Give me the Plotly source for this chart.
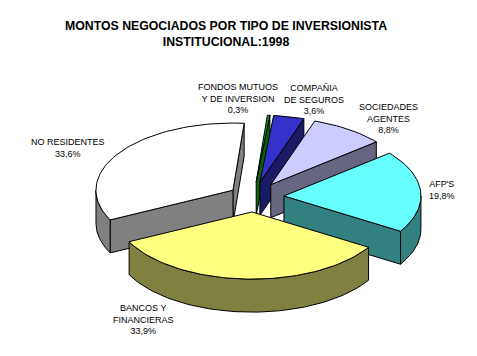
import math
import plotly.graph_objects as go

# --- data -------------------------------------------------------------
categories = ["AFP'S", "BANCOS Y FINANCIERAS", "NO RESIDENTES",
              "FONDOS MUTUOS Y DE INVERSION", "COMPAÑIA DE SEGUROS",
              "SOCIEDADES AGENTES"]
values = [19.8, 33.9, 33.6, 0.3, 3.6, 8.8]
value_labels = ["19,8%", "33,9%", "33,6%", "0,3%", "3,6%", "8,8%"]
label_lines = ["AFP'S", "BANCOS Y<br>FINANCIERAS", "NO RESIDENTES",
               "FONDOS MUTUOS<br>Y DE INVERSION", "COMPAÑIA<br>DE SEGUROS",
               "SOCIEDADES<br>AGENTES"]
title_text = "MONTOS NEGOCIADOS POR TIPO DE INVERSIONISTA<br>INSTITUCIONAL:1998"

# --- style and projection ---------------------------------------------
top_colors = ["#66FFFF", "#FFFF80", "#FFFFFF", "#109A20", "#3333CC", "#CCCCFF"]
side_colors = ["#338080", "#808040", "#808080", "#006600", "#1A1A66", "#666680"]
explode = [30.6, 30.6, 24.7, 30.6, 30.6, 30.6]
label_pos = [(442, 189.5), (143, 319), (68, 148), (238, 98), (314, 99), (388, 118.5)]
draw_order = [2, 3, 4, 5, 0, 1]
CX, CY, R, K, DEPTH = 253.4, 197.0, 137.0, 0.49, 33.0
START_DEG = 50.4


def rim(apex, theta_deg, dz=0.0):
    t = math.radians(theta_deg)
    return apex[0] + R * math.sin(t), apex[1] - R * K * math.cos(t) + dz


def arc(apex, a, b, dz=0.0):
    n = max(2, int(abs(b - a) / 2) + 2)
    return [rim(apex, a + (b - a) * i / (n - 1), dz) for i in range(n)]


def poly(fig, pts, color):
    xs = [p[0] for p in pts] + [pts[0][0]]
    ys = [p[1] for p in pts] + [pts[0][1]]
    fig.add_trace(go.Scatter(x=xs, y=ys, mode="lines", fill="toself",
                             fillcolor=color, hoverinfo="skip",
                             line=dict(color="black", width=1),
                             showlegend=False))


spans, cur = [], START_DEG
for v in values:
    spans.append((cur, cur + v * 3.6))
    cur += v * 3.6

fig = go.Figure()
for i in draw_order:
    a, b = spans[i]
    mid = math.radians((a + b) / 2)
    apex = (CX + explode[i] * math.sin(mid),
            CY - explode[i] * K * math.cos(mid))
    side, top = side_colors[i], top_colors[i]
    # radial wall on the trailing edge
    if math.cos(math.radians(b + 90)) < 0:
        p = rim(apex, b)
        q = rim(apex, b, DEPTH)
        poly(fig, [apex, p, q, (apex[0], apex[1] + DEPTH)], side)
    # radial wall on the leading edge
    if math.cos(math.radians(a - 90)) < 0:
        p = rim(apex, a)
        q = rim(apex, a, DEPTH)
        poly(fig, [apex, p, q, (apex[0], apex[1] + DEPTH)], side)
    # outer wall, front half of the ellipse only
    lo, hi = max(a, 90), min(b, 270)
    if lo < hi:
        poly(fig, arc(apex, lo, hi) + arc(apex, hi, lo, DEPTH), side)
    poly(fig, [apex] + arc(apex, a, b), top)

for i, (x, y) in enumerate(label_pos):
    fig.add_annotation(x=x, y=y, xref="x", yref="y", showarrow=False,
                       text=label_lines[i] + "<br>" + value_labels[i],
                       align="center",
                       font=dict(family="Liberation Sans", size=9, color="black"))

fig.add_annotation(x=226, y=33.5, xref="x", yref="y", showarrow=False,
                   text="<b>" + title_text.replace("<br>", "</b><br><b>") + "</b>",
                   align="center",
                   font=dict(family="Liberation Sans", size=12.3, color="black"))

fig.update_layout(width=477, height=356, margin=dict(l=0, r=0, t=0, b=0),
                  paper_bgcolor="white", plot_bgcolor="white", showlegend=False,
                  xaxis=dict(range=[0, 477], visible=False, fixedrange=True),
                  yaxis=dict(range=[356, 0], visible=False, fixedrange=True))
fig.write_html("out.html", config={"displayModeBar": False},
               post_script="document.body.style.margin='0';")
